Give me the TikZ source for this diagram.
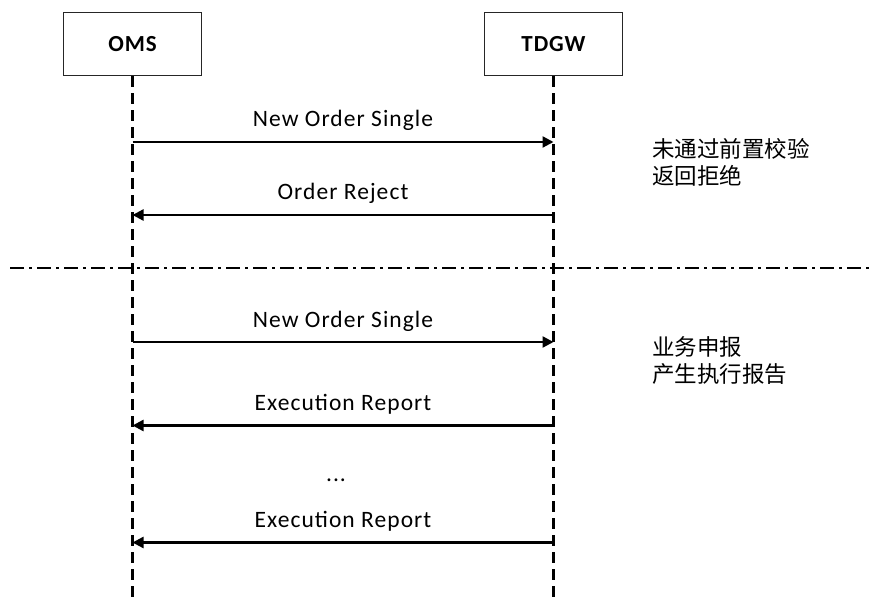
\documentclass[tikz,border=0pt]{standalone}
\usepackage{fontspec}
\setmainfont{Carlito}
\newfontfamily\cjk{Noto Sans CJK SC}
\usetikzlibrary{arrows.meta}
\tikzset{
  actor/.style={draw=black!85, line width=1.1pt, minimum width=138pt, minimum height=63pt, inner sep=0pt,
    font=\fontsize{23}{26}\selectfont\bfseries\addfontfeature{LetterSpace=4}},
  lifeline/.style={line width=2.4pt, dash pattern=on 11pt off 6pt},
  msg/.style={line width=2.3pt, -{Triangle[length=11pt,width=11pt]}},
  lbl/.style={anchor=base, yshift=15pt, inner sep=0pt, font=\fontsize{23.5}{26}\selectfont\addfontfeature{LetterSpace=4.5}},
  dotslbl/.style={anchor=base, inner sep=0pt, font=\fontsize{23.5}{26}\selectfont\addfontfeature{LetterSpace=4.5}},
  note/.style={anchor=west, inner sep=0pt, align=left, font=\cjk\fontsize{22.5}{27}\selectfont},
  sep/.style={line width=2.3pt, dash pattern=on 14pt off 5pt on 3pt off 5pt}
}
\begin{document}
\begin{tikzpicture}[x=1pt, y=-1pt]
\useasboundingbox (0,0) rectangle (869,601);
\fill[white] (0,0) rectangle (869,601);
% actors
\node[actor] (oms) at (132.5,44) {OMS};
\node[actor] (tdgw) at (553.5,44) {TDGW};
% lifeline ends
\coordinate (omsend) at (132.5,601);
\coordinate (tdgwend) at (553.5,601);
\draw[lifeline] (oms.south) -- (omsend);
\draw[lifeline] (tdgw.south) -- (tdgwend);
% message anchor points
\coordinate (o1) at (132.5,142);  \coordinate (t1) at (553.5,142);
\coordinate (o2) at (132.5,215);  \coordinate (t2) at (553.5,215);
\coordinate (o3) at (132.5,342);  \coordinate (t3) at (553.5,342);
\coordinate (o4) at (132.5,425.5);\coordinate (t4) at (553.5,425.5);
\coordinate (o5) at (132.5,542.5);\coordinate (t5) at (553.5,542.5);
\draw[msg] (o1) -- node[lbl] {New Order Single} (t1);
\draw[msg] (t2) -- node[lbl] {Order Reject} (o2);
\draw[msg] (o3) -- node[lbl] {New Order Single} (t3);
\draw[msg] (t4) -- node[lbl] {Execution Report} (o4);
\draw[msg] (t5) -- node[lbl] {Execution Report} (o5);
\node[dotslbl] (dots) at (336,481) {...};
% separator
\coordinate (sepl) at (10,268);
\coordinate (sepr) at (869,268);
\draw[sep] (sepl) -- (sepr);
% notes
\node[note] (n1) at (652,162) {未通过前置校验\\返回拒绝};
\node[note] (n2) at (652,361) {业务申报\\产生执行报告};
\end{tikzpicture}
\end{document}
